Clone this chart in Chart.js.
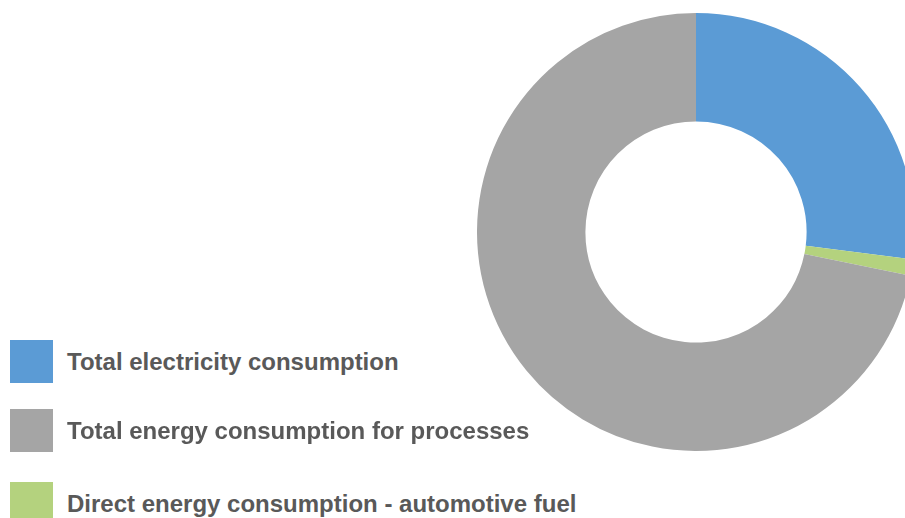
<!DOCTYPE html>
<html>
<head>
<meta charset="utf-8">
<script src="https://cdn.jsdelivr.net/npm/chart.js@4.4.3/dist/chart.umd.min.js"></script>
<style>
  html, body { margin: 0; padding: 0; width: 905px; height: 518px; overflow: hidden; background: #fff; }
  #donut { position: absolute; left: 477px; top: 13px; }
  .legend-item { position: absolute; left: 10px; display: flex; align-items: center; height: 43px; }
  .legend-box { width: 43px; height: 43px; flex: none; }
  .legend-text {
    margin-left: 14px;
    font: bold 24px "Liberation Sans", Arial, sans-serif;
    color: #595959;
    white-space: nowrap;
  }
</style>
</head>
<body>
<canvas id="donut" width="438" height="438"></canvas>
<div id="legend"></div>
<script>
// share of energy consumption, clockwise from 12 o'clock
const labels = [
  'Total electricity consumption',
  'Direct energy consumption - automotive fuel',
  'Total energy consumption for processes'
];
const shares = [27.0, 1.2, 71.8];
const colors = ['#5b9bd5', '#b4d27e', '#a5a5a5'];

// legend lists the slices in a different order than the ring
const legendOrder = [0, 2, 1];
const legendTops = [340, 409, 482];

const chart = new Chart(document.getElementById('donut'), {
  type: 'doughnut',
  data: {
    labels: labels,
    datasets: [{
      data: shares,
      backgroundColor: colors,
      borderWidth: 0,
      offset: 0,
      hoverOffset: 0
    }]
  },
  options: {
    responsive: false,
    animation: false,
    cutout: '50.5%',
    layout: { padding: 0 },
    plugins: {
      legend: { display: false },
      tooltip: { enabled: false }
    }
  }
});

const legend = document.getElementById('legend');
legendOrder.forEach((idx, i) => {
  const item = document.createElement('div');
  item.className = 'legend-item';
  item.style.top = legendTops[i] + 'px';
  const box = document.createElement('div');
  box.className = 'legend-box';
  box.style.background = chart.data.datasets[0].backgroundColor[idx];
  const text = document.createElement('span');
  text.className = 'legend-text';
  text.textContent = chart.data.labels[idx];
  item.appendChild(box);
  item.appendChild(text);
  legend.appendChild(item);
});
</script>
</body>
</html>
